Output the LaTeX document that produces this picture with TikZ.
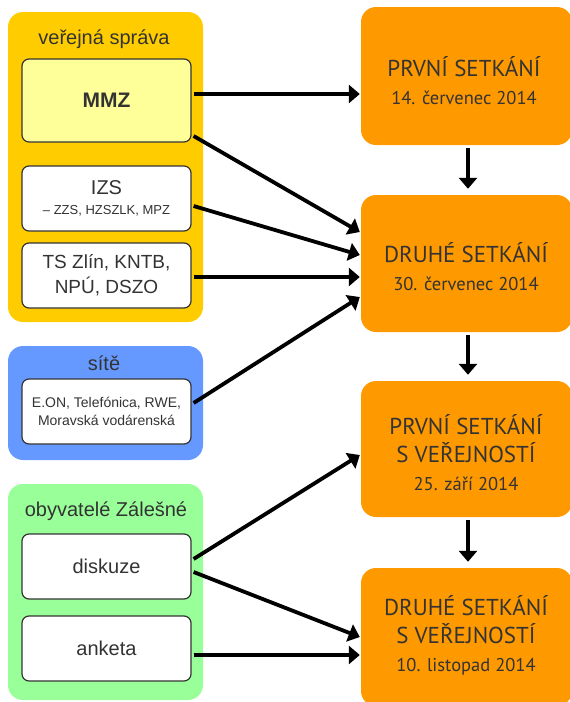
\documentclass[tikz,border=0pt]{standalone}
\usepackage{fontspec}
\setmainfont{Liberation Sans}
\newfontfamily\setkanifont{PT Sans}
\usetikzlibrary{arrows.meta}
\definecolor{zluta}{HTML}{FFCC00}
\definecolor{svetlezluta}{HTML}{FFFF99}
\definecolor{modra}{HTML}{6699FF}
\definecolor{zelena}{HTML}{99FF99}
\definecolor{oranzova}{HTML}{FF9900}
\definecolor{sedytext}{HTML}{333333}
\begin{document}
\begin{tikzpicture}[x=1pt,y=-1pt,line join=round,line cap=round,>=stealth,
		skupina/.style={rounded corners=15pt,minimum width=195pt,inner sep=0pt},
		popis/.style={text=sedytext,font=\fontsize{20}{24}\selectfont},
		blok/.style={draw=black!80,line width=1.2pt,fill=white,rounded corners=7pt,minimum width=169pt,minimum height=65pt,align=center,text=sedytext,font=\fontsize{20}{24}\selectfont},
		setkani/.style={fill=oranzova,rounded corners=15pt,minimum width=211pt,align=center,text=sedytext,font=\setkanifont\fontsize{23}{28}\selectfont},
		sipka/.style={line width=3.8pt,line cap=butt,-{Triangle[length=11pt,width=18pt]}}]
	\useasboundingbox (0,0) rectangle (570,702);
	% skupiny vlevo
	\node[skupina,fill=zluta,minimum height=310pt] (sprava) at (105.5,167) {};
	\node[skupina,fill=modra,minimum height=114pt] (site) at (105.5,403) {};
	\node[skupina,fill=zelena,minimum height=216pt] (obyvatele) at (105.5,592) {};
	\node[popis] (spravaText) at (104,39) {veřejná správa};
	\node[popis] (siteText) at (104,363) {sítě};
	\node[popis] (obyvateleText) at (106,511) {obyvatelé Zálešné};
	% bloky
	\node[blok,fill=svetlezluta,minimum height=83pt,font=\bfseries\fontsize{21}{24}\selectfont] (mmz) at (106.5,100.5) {MMZ};
	\node[blok] (izs) at (106.5,198.5) {IZS\\[-4pt]{\fontsize{13}{16}\selectfont -- ZZS, HZSZLK, MPZ}};
	\node[blok,font=\fontsize{19}{25}\selectfont] (ts) at (106.5,275.5) {TS Zlín, KNTB,\\NPÚ, DSZO};
	\node[blok,font=\fontsize{14}{18}\selectfont] (eon) at (106.5,411.5) {E.ON, Telefónica, RWE,\\Moravská vodárenská};
	\node[blok] (diskuze) at (106.5,566.5) {diskuze};
	\node[blok] (anketa) at (106.5,648.5) {anketa};
	% setkani vpravo
	\node[setkani,minimum height=138pt] (prvni) at (466.5,76) {};
	\node[setkani,minimum height=137pt] (druhe) at (466.5,263.5) {};
	\node[setkani,minimum height=136pt] (treti) at (466.5,449) {};
	\node[setkani,minimum height=138pt] (ctvrte) at (466.5,637) {};
	\node[setkani,fill=none] (prvniText) at (464,81) {PRVNÍ SETKÁNÍ\\{\fontsize{18.5}{28}\selectfont 14. červenec 2014}};
	\node[setkani,fill=none] (druheText) at (466,266.5) {DRUHÉ SETKÁNÍ\\{\fontsize{18.5}{28}\selectfont 30. červenec 2014}};
	\node[setkani,fill=none] (tretiText) at (466,453) {PRVNÍ SETKÁNÍ\\S VEŘEJNOSTÍ\\{\fontsize{18.5}{28}\selectfont 25. září 2014}};
	\node[setkani,fill=none] (ctvrteText) at (466,635.5) {DRUHÉ SETKÁNÍ\\S VEŘEJNOSTÍ\\{\fontsize{18.5}{28}\selectfont 10. listopad 2014}};
	% sipky
	\draw[sipka] ([xshift=2pt,yshift=6.5pt]mmz.east) -- ([xshift=-1pt,yshift=6.5pt]mmz.east -| prvni.west);
	\draw[sipka] ([xshift=2pt,yshift=-35.5pt]mmz.east) -- ([xshift=-1pt,yshift=31.5pt]druhe.west);
	\draw[sipka] ([xshift=2pt,yshift=-7.5pt]izs.east) -- ([xshift=-1pt,yshift=8.5pt]druhe.west);
	\draw[sipka] ([xshift=2pt,yshift=-1.5pt]ts.east) -- ([xshift=-1pt,yshift=-1.5pt]ts.east -| druhe.west);
	\draw[sipka] ([xshift=2pt,yshift=8.5pt]eon.east) -- ([xshift=-1pt,yshift=-33.5pt]druhe.west);
	\draw[sipka] ([xshift=2pt,yshift=7.5pt]diskuze.east) -- ([xshift=-1pt,yshift=-6pt]treti.west);
	\draw[sipka] ([xshift=2pt,yshift=-5.5pt]diskuze.east) -- ([xshift=-1pt]ctvrte.west);
	\draw[sipka] ([xshift=2pt,yshift=-6.5pt]anketa.east) -- ([xshift=-1pt,yshift=-6.5pt]anketa.east -| ctvrte.west);
	\draw[sipka,shorten <=3pt,shorten >=6pt] ([xshift=1.5pt]prvni.south) -- ([xshift=1.5pt]druhe.north);
	\draw[sipka,shorten <=3pt,shorten >=6pt] ([xshift=1.5pt]druhe.south) -- ([xshift=1.5pt]treti.north);
	\draw[sipka,shorten <=3pt,shorten >=6pt] ([xshift=1.5pt]treti.south) -- ([xshift=1.5pt]ctvrte.north);
\end{tikzpicture}
\end{document}
